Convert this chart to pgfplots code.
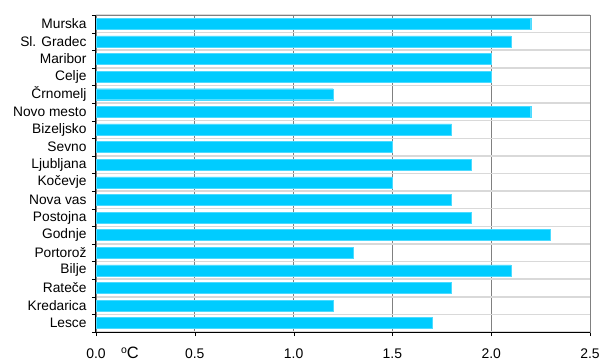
\documentclass[border=0pt]{standalone}
\usepackage{fontspec}
\setmainfont{Liberation Sans}
\usepackage{pgfplots}
\pgfplotsset{compat=1.18}
\definecolor{barc}{HTML}{00CCFF}
\begin{document}
\begin{tikzpicture}[x=1bp,y=1bp]
\begin{axis}[
  at={(0,0)}, anchor=south west,
  scale only axis, width=494bp, height=317bp,
  xmin=0, xmax=2.5,
  ymin=-0.5, ymax=17.5,
  xtick={0,0.5,1,1.5,2,2.5},
  xticklabel style={font=\fontsize{14}{15}\selectfont, yshift=-9bp,
    /pgf/number format/fixed, /pgf/number format/fixed zerofill,
    /pgf/number format/precision=1, /pgf/number format/assume math mode=true},
  ytick={0,...,17},
  yticklabels={Lesce,Kredarica,Rateče,Bilje,Portorož,Godnje,Postojna,Nova vas,Kočevje,Ljubljana,Sevno,Bizeljsko,Novo mesto,Črnomelj,Celje,Maribor,Sl. Gradec,Murska},
  yticklabel style={font=\fontsize{13.8}{14}\selectfont, xshift=-2bp},
  minor ytick={-0.5,0.5,...,17.5},
  major tick length=4bp,
  minor tick length=4bp,
  xtick pos=bottom, ytick pos=left,
  tick align=outside,
  tick style={black},
  every major y tick/.style={draw=none},
  xmajorgrids, yminorgrids,
  major x grid style={gray, line width=0.6bp},
  minor y grid style={gray!30, line width=1.5bp},
  axis line style={gray, line width=0.8bp},
  xbar, bar width=11bp,
  clip=false,
]
\addplot[fill=barc, draw=barc!70!white, line width=0.4bp] coordinates {
 (1.7,0) (1.2,1) (1.8,2) (2.1,3) (1.3,4) (2.3,5) (1.9,6) (1.8,7) (1.5,8)
 (1.9,9) (1.5,10) (1.8,11) (2.2,12) (1.2,13) (2.0,14) (2.0,15) (2.1,16) (2.2,17)
};
\draw[black, line width=1bp] (rel axis cs:0,1) -- (rel axis cs:0,0) -- (rel axis cs:1,0);
\end{axis}
\node[font=\fontsize{16.5}{17}\selectfont, inner sep=0pt] at (34bp,-21bp) {\raisebox{5bp}{\fontsize{10.5}{11}\selectfont o}C};
\pgfresetboundingbox
\useasboundingbox (-96bp,-29bp) rectangle (507bp,332bp);
\end{tikzpicture}
\end{document}
